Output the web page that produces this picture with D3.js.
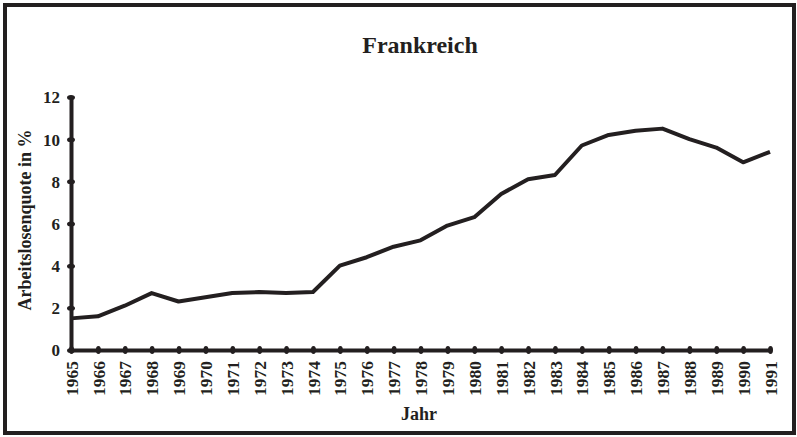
<!DOCTYPE html>
<html>
<head>
<meta charset="utf-8">
<script src="https://cdn.jsdelivr.net/npm/d3@7"></script>
<style>
  body { margin: 0; background: #fff; }
  text { font-family: "Liberation Serif", "Times New Roman", serif; font-weight: bold; fill: #231f20; }
</style>
</head>
<body>
<div id="chart"></div>
<script>

// data
var years = [1965, 1966, 1967, 1968, 1969, 1970, 1971, 1972, 1973, 1974, 1975, 1976, 1977,
             1978, 1979, 1980, 1981, 1982, 1983, 1984, 1985, 1986, 1987, 1988, 1989, 1990, 1991];
var quote = [1.5, 1.6, 2.1, 2.7, 2.3, 2.5, 2.7, 2.75, 2.7, 2.75, 4.0, 4.4, 4.9,
             5.2, 5.9, 6.3, 7.4, 8.1, 8.3, 9.7, 10.2, 10.4, 10.5, 10.0, 9.6, 8.9, 9.4];
var yTicks = [0, 2, 4, 6, 8, 10, 12];

var width = 797, height = 437;
var ink = "#231f20";

var svg = d3.select("#chart")
			.append("svg")
			.attr("width", width)
			.attr("height", height);

// frame
svg.append("rect")
	.attr("x", 5)
	.attr("y", 5)
	.attr("width", 789)
	.attr("height", 428)
	.style("fill", "none")
	.style("stroke", ink)
	.style("stroke-width", 4);

var x = d3.scaleLinear().domain([1965, 1991]).range([71, 770]);
var y = d3.scaleLinear().domain([0, 12]).range([350, 97]);

// y axis
var yAxis = svg.append("g")
			.attr("transform", "translate(" + x(1965) + ",0)")
			.call(d3.axisLeft(y).tickValues(yTicks).tickSize(0).tickPadding(11));

// x axis
var xAxis = svg.append("g")
			.attr("transform", "translate(0," + y(0) + ")")
			.call(d3.axisBottom(x).tickValues(years).tickFormat(d3.format("d")).tickSize(0).tickPadding(0));

[yAxis, xAxis].forEach(function(ax) {
	ax.select(".domain").style("stroke", ink).style("stroke-width", 4);
	ax.selectAll(".tick line").remove();
	ax.selectAll(".tick").append("ellipse")
		.attr("rx", ax === yAxis ? 4 : 2.5)
		.attr("ry", ax === yAxis ? 2.5 : 4)
		.style("fill", ink);
});

yAxis.selectAll(".tick text")
	.style("font-size", "17px")
	.attr("dy", "0.35em");

xAxis.selectAll(".tick text")
	.style("font-size", "17.5px")
	.attr("transform", "rotate(-90)")
	.attr("text-anchor", "end")
	.attr("x", -11)
	.attr("y", 0)
	.attr("dy", "0.35em");

// line
var line = d3.line()
			.x(function(d, i) { return x(years[i]); })
			.y(function(d) { return y(d); });

svg.append("path")
	.datum(quote)
	.attr("d", line)
	.style("fill", "none")
	.style("stroke", ink)
	.style("stroke-width", 4)
	.style("stroke-linejoin", "round");

// labels
svg.append("text")
	.attr("x", 420)
	.attr("y", 53)
	.attr("text-anchor", "middle")
	.style("font-size", "24px")
	.text("Frankreich");

svg.append("text")
	.attr("transform", "translate(31,220) rotate(-90)")
	.attr("text-anchor", "middle")
	.style("font-size", "18px")
	.text("Arbeitslosenquote in %");

svg.append("text")
	.attr("x", 419)
	.attr("y", 420)
	.attr("text-anchor", "middle")
	.style("font-size", "18px")
	.text("Jahr");

</script>
</body>
</html>
